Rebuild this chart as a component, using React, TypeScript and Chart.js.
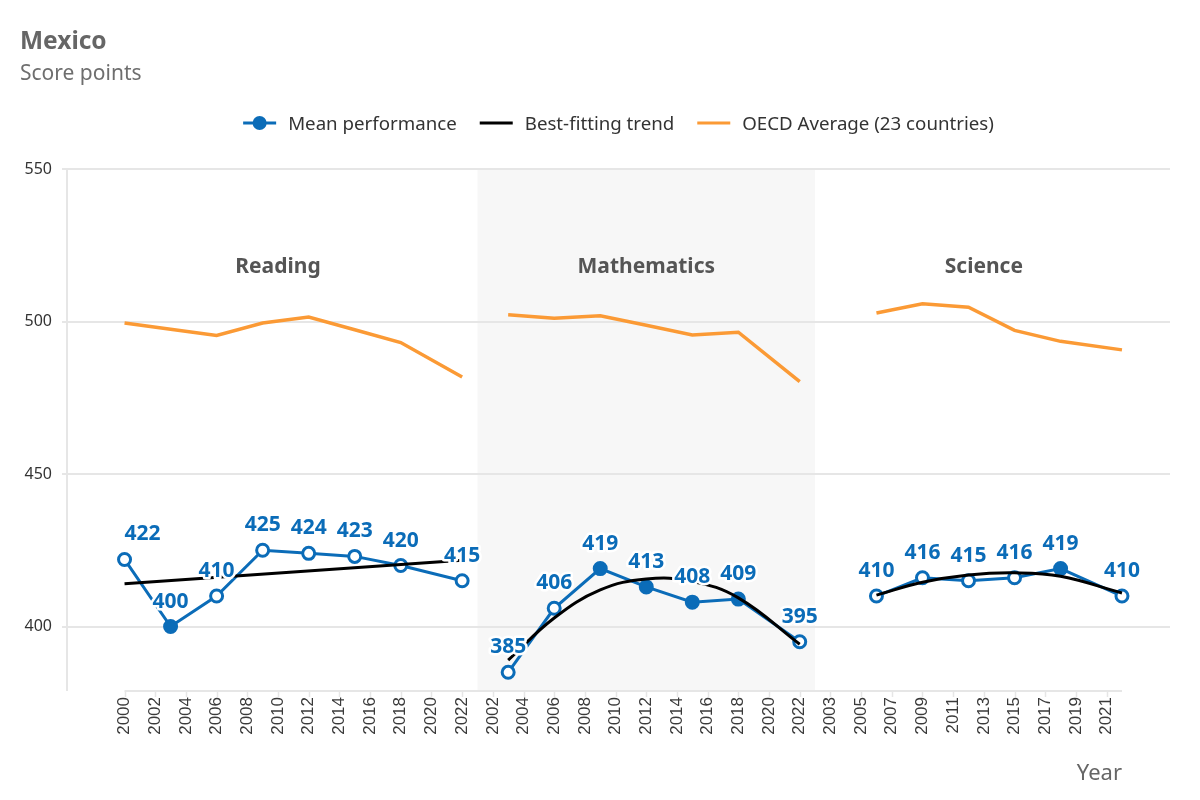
import React, { useEffect, useRef } from 'react';
import { Chart, registerables } from 'chart.js';

Chart.register(...registerables);

// ---------- text ----------
const TITLE = 'Mexico';
const SUBTITLE = 'Score points';
const AXIS_TITLE = 'Year';
const SUBJECTS = ['Reading', 'Mathematics', 'Science'];
const LEGEND_LABELS = ['Mean performance', 'Best-fitting trend', 'OECD Average (23 countries)'];

// ---------- x-axis tick labels (one block per subject panel) ----------
const READING_TICKS = ['2000', '2002', '2004', '2006', '2008', '2010', '2012', '2014', '2016', '2018', '2020', '2022'];
const MATH_TICKS = ['2002', '2004', '2006', '2008', '2010', '2012', '2014', '2016', '2018', '2020', '2022'];
const SCIENCE_TICKS = ['2003', '2005', '2007', '2009', '2011', '2013', '2015', '2017', '2019', '2021'];

// ---------- y-axis ticks ----------
const Y_TICKS = [400, 450, 500, 550];

// ---------- Reading ----------
const READING_YEARS = [2000, 2003, 2006, 2009, 2012, 2015, 2018, 2022];
const READING_MEAN = [422, 400, 410, 425, 424, 423, 420, 415];
const READING_SIGNIF = [false, true, false, false, false, false, false, false];
const READING_TREND_YEARS = [2000, 2022];
const READING_TREND = [414.0, 421.7];
const READING_OECD = [499.5, 497.5, 495.4, 499.5, 501.5, 497.3, 493.1, 481.8];

// ---------- Mathematics ----------
const MATH_YEARS = [2003, 2006, 2009, 2012, 2015, 2018, 2022];
const MATH_MEAN = [385, 406, 419, 413, 408, 409, 395];
const MATH_SIGNIF = [false, false, true, true, true, true, false];
const MATH_TREND = [389.0, 402.8, 412.0, 415.6, 414.8, 409.4, 394.2];
const MATH_OECD = [502.2, 501.1, 501.9, 498.8, 495.6, 496.5, 480.3];

// ---------- Science ----------
const SCIENCE_YEARS = [2006, 2009, 2012, 2015, 2018, 2022];
const SCIENCE_MEAN = [410, 416, 415, 416, 419, 410];
const SCIENCE_SIGNIF = [false, false, false, false, true, false];
const SCIENCE_TREND = [410.3, 414.5, 416.9, 417.6, 416.5, 411.0];
const SCIENCE_OECD = [502.8, 505.8, 504.7, 497.1, 493.5, 490.7];

// ---------- styles / layout ----------
const FONT = '"Noto Sans", "Open Sans", sans-serif';
const BLUE = '#0B6CB8';
const BLACK = '#000000';
const ORANGE = '#FB9A35';
const GRID = '#E6E6E6';
const BAND = '#F7F7F7';
const X_MIN = -3.75;
const X_MAX = 68.13;
const Y_MIN = 379.2;
const Y_MAX = 550;
const SECTION_LABEL_U = [10, 34, 56];

// panel offsets on the shared x axis (every tick is 2 units apart)
const READING_OFFSET = 0;
const MATH_OFFSET = READING_OFFSET + READING_TICKS.length * 2;
const SCIENCE_OFFSET = MATH_OFFSET + MATH_TICKS.length * 2;
const ALL_TICKS = [...READING_TICKS, ...MATH_TICKS, ...SCIENCE_TICKS];
const LAST_U = SCIENCE_OFFSET + (2022 - Number(SCIENCE_TICKS[0]));

const toU = (offset: number, first: string, year: number) => offset + year - Number(first);

function pts(years: number[], vals: number[], offset: number, first: string) {
  return years.map((yr, i) => ({ x: toU(offset, first, yr), y: vals[i] }));
}

function meanDs(years: number[], vals: number[], signif: boolean[], offset: number, first: string) {
  return {
    label: LEGEND_LABELS[0],
    data: pts(years, vals, offset, first),
    borderColor: BLUE,
    backgroundColor: BLUE,
    borderWidth: 3,
    pointRadius: 6,
    pointHoverRadius: 6,
    pointBorderWidth: 3,
    pointBorderColor: BLUE,
    pointBackgroundColor: signif.map((s) => (s ? BLUE : '#FFFFFF')),
    tension: 0,
    order: 2,
    isMean: true,
  };
}

function trendDs(years: number[], vals: number[], offset: number, first: string) {
  return {
    label: LEGEND_LABELS[1],
    data: pts(years, vals, offset, first),
    borderColor: BLACK,
    borderWidth: 3,
    pointRadius: 0,
    pointHoverRadius: 0,
    tension: 0.4,
    order: 1,
  };
}

function oecdDs(years: number[], vals: number[], offset: number, first: string) {
  return {
    label: LEGEND_LABELS[2],
    data: pts(years, vals, offset, first),
    borderColor: ORANGE,
    borderWidth: 3.5,
    pointRadius: 0,
    pointHoverRadius: 0,
    tension: 0,
    order: 3,
  };
}

const decorPlugin = {
  id: 'decor',
  beforeDraw(chart: any) {
    const { ctx, chartArea: a, scales } = chart;
    const x = scales.x;
    const x0 = x.getPixelForValue(MATH_OFFSET - 1);
    const x1 = x.getPixelForValue(SCIENCE_OFFSET - 1);
    ctx.save();
    ctx.fillStyle = BAND;
    ctx.fillRect(x0, a.top, x1 - x0, a.bottom - a.top);
    ctx.restore();
  },
  afterDatasetsDraw(chart: any) {
    const { ctx, scales } = chart;
    const xStart = scales.x.getPixelForValue(0);
    ctx.save();
    ctx.font = `bold 21px ${FONT}`;
    ctx.textAlign = 'center';
    ctx.textBaseline = 'alphabetic';
    ctx.lineJoin = 'round';
    chart.data.datasets.forEach((ds: any, i: number) => {
      if (!ds.isMean) return;
      const meta = chart.getDatasetMeta(i);
      meta.data.forEach((el: any, j: number) => {
        const txt = String(ds.data[j].y);
        const w = ctx.measureText(txt).width;
        // keep labels inside the x-axis range on the left side
        const bx = Math.max(el.x, xStart + w / 2);
        const by = el.y - 19;
        ctx.strokeStyle = '#FFFFFF';
        ctx.lineWidth = 5;
        ctx.strokeText(txt, bx, by);
        ctx.fillStyle = BLUE;
        ctx.fillText(txt, bx, by);
      });
    });
    ctx.restore();
  },
  afterDraw(chart: any) {
    const { ctx, chartArea: a, scales } = chart;
    const x = scales.x;
    ctx.save();

    // x axis line and tick marks
    const axY = a.bottom + 1;
    ctx.strokeStyle = GRID;
    ctx.lineWidth = 2;
    ctx.beginPath();
    ctx.moveTo(x.getPixelForValue(0), axY);
    ctx.lineTo(x.getPixelForValue(LAST_U), axY);
    ctx.stroke();
    ctx.lineWidth = 1.5;
    ALL_TICKS.forEach((_, i) => {
      const px = Math.round(x.getPixelForValue(i * 2)) + 0.5;
      ctx.beginPath();
      ctx.moveTo(px, axY);
      ctx.lineTo(px, axY + 6);
      ctx.stroke();
    });

    // title & subtitle
    ctx.textAlign = 'left';
    ctx.textBaseline = 'alphabetic';
    ctx.fillStyle = '#666666';
    ctx.font = `bold 24.5px ${FONT}`;
    ctx.fillText(TITLE, 20, 49);
    ctx.font = `21px ${FONT}`;
    ctx.fillStyle = '#6E6E6E';
    ctx.fillText(SUBTITLE, 20, 80);

    // legend
    ctx.font = `18.7px ${FONT}`;
    const symW = 33;
    const gapT = 12;
    const gapI = 23;
    const widths = LEGEND_LABELS.map((t) => ctx.measureText(t).width);
    const total = widths.reduce((s, w) => s + symW + gapT + w, 0) + gapI * (LEGEND_LABELS.length - 1);
    let lx = (a.left + a.right) / 2 - total / 2;
    const ly = 123;
    const colors = [BLUE, BLACK, ORANGE];
    LEGEND_LABELS.forEach((t, i) => {
      ctx.strokeStyle = colors[i];
      ctx.lineWidth = 3;
      ctx.beginPath();
      ctx.moveTo(lx, ly);
      ctx.lineTo(lx + symW, ly);
      ctx.stroke();
      if (i === 0) {
        ctx.fillStyle = BLUE;
        ctx.beginPath();
        ctx.arc(lx + symW / 2, ly, 7, 0, Math.PI * 2);
        ctx.fill();
      }
      ctx.fillStyle = '#333333';
      ctx.fillText(t, lx + symW + gapT, ly + 6.5);
      lx += symW + gapT + widths[i] + gapI;
    });

    // section labels
    ctx.font = `bold 21px ${FONT}`;
    ctx.fillStyle = '#555555';
    ctx.textAlign = 'center';
    SUBJECTS.forEach((s, i) => {
      ctx.fillText(s, x.getPixelForValue(SECTION_LABEL_U[i]), 273);
    });

    // axis title
    ctx.font = `22px ${FONT}`;
    ctx.fillStyle = '#666666';
    ctx.textAlign = 'right';
    ctx.fillText(AXIS_TITLE, x.getPixelForValue(LAST_U), 780);

    ctx.restore();
  },
};

export default function App() {
  const ref = useRef<HTMLCanvasElement | null>(null);

  useEffect(() => {
    if (!ref.current) return;
    const datasets: any[] = [
      meanDs(READING_YEARS, READING_MEAN, READING_SIGNIF, READING_OFFSET, READING_TICKS[0]),
      meanDs(MATH_YEARS, MATH_MEAN, MATH_SIGNIF, MATH_OFFSET, MATH_TICKS[0]),
      meanDs(SCIENCE_YEARS, SCIENCE_MEAN, SCIENCE_SIGNIF, SCIENCE_OFFSET, SCIENCE_TICKS[0]),
      trendDs(READING_TREND_YEARS, READING_TREND, READING_OFFSET, READING_TICKS[0]),
      trendDs(MATH_YEARS, MATH_TREND, MATH_OFFSET, MATH_TICKS[0]),
      trendDs(SCIENCE_YEARS, SCIENCE_TREND, SCIENCE_OFFSET, SCIENCE_TICKS[0]),
      oecdDs(READING_YEARS, READING_OECD, READING_OFFSET, READING_TICKS[0]),
      oecdDs(MATH_YEARS, MATH_OECD, MATH_OFFSET, MATH_TICKS[0]),
      oecdDs(SCIENCE_YEARS, SCIENCE_OECD, SCIENCE_OFFSET, SCIENCE_TICKS[0]),
    ];

    const chart = new Chart(ref.current, {
      type: 'line',
      data: { datasets },
      options: {
        responsive: false,
        animation: false,
        devicePixelRatio: 1,
        layout: { padding: { top: 169, right: 30, left: 0, bottom: 0 } },
        plugins: {
          legend: { display: false },
          title: { display: false },
          tooltip: { enabled: false },
        },
        scales: {
          x: {
            type: 'linear',
            min: X_MIN,
            max: X_MAX,
            afterBuildTicks: (s: any) => {
              s.ticks = ALL_TICKS.map((_, i) => ({ value: i * 2 }));
            },
            afterFit: (s: any) => {
              s.height = 110;
            },
            grid: { display: false, drawTicks: false },
            border: { display: false },
            ticks: {
              autoSkip: false,
              minRotation: 90,
              maxRotation: 90,
              padding: 7,
              color: '#3A3A3A',
              font: { family: '"Liberation Sans", Arial, sans-serif', size: 17 },
              callback: (v: any) => {
                const idx = Math.round(Number(v) / 2);
                return ALL_TICKS[idx] ?? '';
              },
            },
          },
          y: {
            type: 'linear',
            min: Y_MIN,
            max: Y_MAX,
            afterBuildTicks: (s: any) => {
              s.ticks = Y_TICKS.map((v) => ({ value: v }));
            },
            afterFit: (s: any) => {
              s.width = 67;
            },
            grid: { color: GRID, lineWidth: 2, tickLength: 5 },
            border: { color: GRID, width: 2 },
            ticks: {
              padding: 10,
              color: '#333333',
              font: { family: FONT, size: 16 },
            },
          },
        },
      } as any,
      plugins: [decorPlugin],
    });
    return () => chart.destroy();
  }, []);

  return (
    <div style={{ position: 'absolute', left: 0, top: 0, width: 1200, height: 800, background: '#fff' }}>
      <canvas ref={ref} width={1200} height={800} style={{ width: 1200, height: 800, display: 'block' }} />
    </div>
  );
}
